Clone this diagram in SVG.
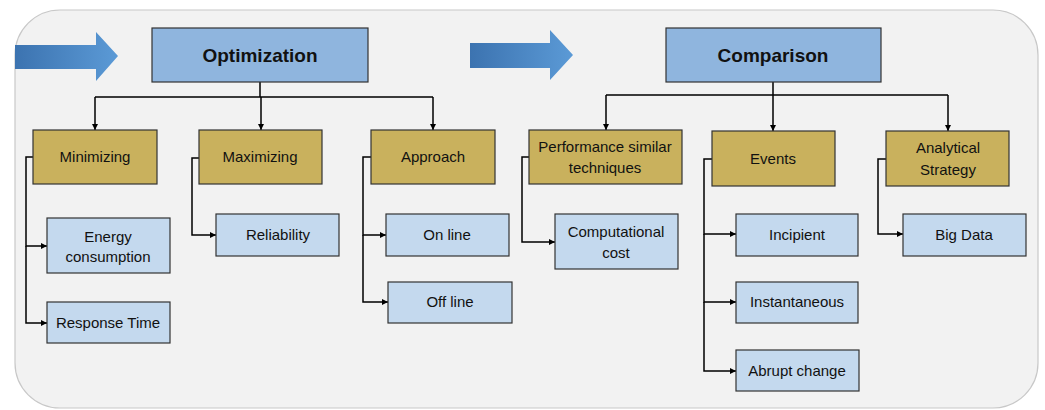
<svg xmlns="http://www.w3.org/2000/svg" width="1045" height="410" viewBox="0 0 1045 410">
<defs>
<linearGradient id="ag" x1="0" y1="0" x2="1" y2="0">
<stop offset="0" stop-color="#3c73b0"/>
<stop offset="1" stop-color="#5b9ad6"/>
</linearGradient>
<marker id="ah" viewBox="0 0 10 10" refX="10" refY="5" markerWidth="6" markerHeight="6" markerUnits="userSpaceOnUse" orient="auto">
<path d="M0,0 L10,5 L0,10 z" fill="#000"/>
</marker>
<style>
.top{fill:#8fb5de;stroke:#333;stroke-width:1.2}
.mid{fill:#c9b15d;stroke:#333;stroke-width:1.2}
.leaf{fill:#c4d9ee;stroke:#333;stroke-width:1.2}
text{font-family:"Liberation Sans",Arial,sans-serif;font-size:15px;fill:#111;text-anchor:middle}
.tt{font-size:19px;font-weight:bold}
.c{fill:none;stroke:#000;stroke-width:1.5}
</style>
</defs>
<rect x="15" y="10" width="1023" height="398" rx="45" ry="45" fill="#f2f2f2" stroke="#c8c8c8" stroke-width="1.2"/>
<g id="arrows">
<path d="M15,45 H96 V32 L118,56 L96,81 V69 H15 z" fill="url(#ag)"/>
<path d="M470,43 H550 V30 L573,55 L550,80 V68 H470 z" fill="url(#ag)"/>
</g>
<g id="connectors">
<path class="c" d="M260,82 V97 M95,97 H433"/>
<path class="c" d="M95,97 V130" marker-end="url(#ah)"/>
<path class="c" d="M261,97 V130" marker-end="url(#ah)"/>
<path class="c" d="M433,97 V130" marker-end="url(#ah)"/>
<path class="c" d="M773,82 V95 M606,95 H948"/>
<path class="c" d="M606,95 V130" marker-end="url(#ah)"/>
<path class="c" d="M773,95 V131" marker-end="url(#ah)"/>
<path class="c" d="M948,95 V131" marker-end="url(#ah)"/>
<path class="c" d="M33,157 H26 V246 H47" marker-end="url(#ah)"/>
<path class="c" d="M26,246 V323 H47" marker-end="url(#ah)"/>
<path class="c" d="M199,158 H192 V235 H216" marker-end="url(#ah)"/>
<path class="c" d="M371,157 H363 V235 H386" marker-end="url(#ah)"/>
<path class="c" d="M363,235 V302 H388" marker-end="url(#ah)"/>
<path class="c" d="M529,157 H522 V242 H555" marker-end="url(#ah)"/>
<path class="c" d="M712,159 H704 V234 H736" marker-end="url(#ah)"/>
<path class="c" d="M704,234 V302 H736" marker-end="url(#ah)"/>
<path class="c" d="M704,302 V371 H736" marker-end="url(#ah)"/>
<path class="c" d="M886,159 H878 V234 H903" marker-end="url(#ah)"/>
</g>
<g id="optimization"><rect class="top" x="152" y="28" width="216" height="54"/><text class="tt" x="260" y="62">Optimization</text></g>
<g id="comparison"><rect class="top" x="666" y="28" width="215" height="54"/><text class="tt" x="773" y="62">Comparison</text></g>
<g id="minimizing"><rect class="mid" x="33" y="130" width="124" height="54"/><text x="95" y="162">Minimizing</text></g>
<g id="maximizing"><rect class="mid" x="199" y="130" width="123" height="54"/><text x="260" y="162">Maximizing</text></g>
<g id="approach"><rect class="mid" x="371" y="130" width="124" height="54"/><text x="433" y="162">Approach</text></g>
<g id="performance"><rect class="mid" x="529" y="130" width="153" height="54"/><text x="605" y="152">Performance similar</text><text x="605" y="173">techniques</text></g>
<g id="events"><rect class="mid" x="712" y="131" width="123" height="55"/><text x="773" y="164">Events</text></g>
<g id="analytical"><rect class="mid" x="886" y="131" width="123" height="55"/><text x="948" y="153">Analytical</text><text x="948" y="175">Strategy</text></g>
<g id="energy"><rect class="leaf" x="47" y="218" width="123" height="55"/><text x="108" y="242">Energy</text><text x="108" y="262">consumption</text></g>
<g id="response"><rect class="leaf" x="47" y="302" width="123" height="41"/><text x="108" y="328">Response Time</text></g>
<g id="reliability"><rect class="leaf" x="216" y="214" width="123" height="42"/><text x="278" y="240">Reliability</text></g>
<g id="online"><rect class="leaf" x="386" y="214" width="123" height="42"/><text x="447" y="240">On line</text></g>
<g id="offline"><rect class="leaf" x="388" y="282" width="124" height="41"/><text x="450" y="307">Off line</text></g>
<g id="computational"><rect class="leaf" x="555" y="214" width="123" height="55"/><text x="616" y="237">Computational</text><text x="616" y="258">cost</text></g>
<g id="incipient"><rect class="leaf" x="736" y="214" width="122" height="42"/><text x="797" y="240">Incipient</text></g>
<g id="instantaneous"><rect class="leaf" x="736" y="282" width="122" height="41"/><text x="797" y="307">Instantaneous</text></g>
<g id="abrupt"><rect class="leaf" x="736" y="350" width="123" height="41"/><text x="797" y="376">Abrupt change</text></g>
<g id="bigdata"><rect class="leaf" x="903" y="214" width="123" height="42"/><text x="964" y="240">Big Data</text></g>
</svg>
